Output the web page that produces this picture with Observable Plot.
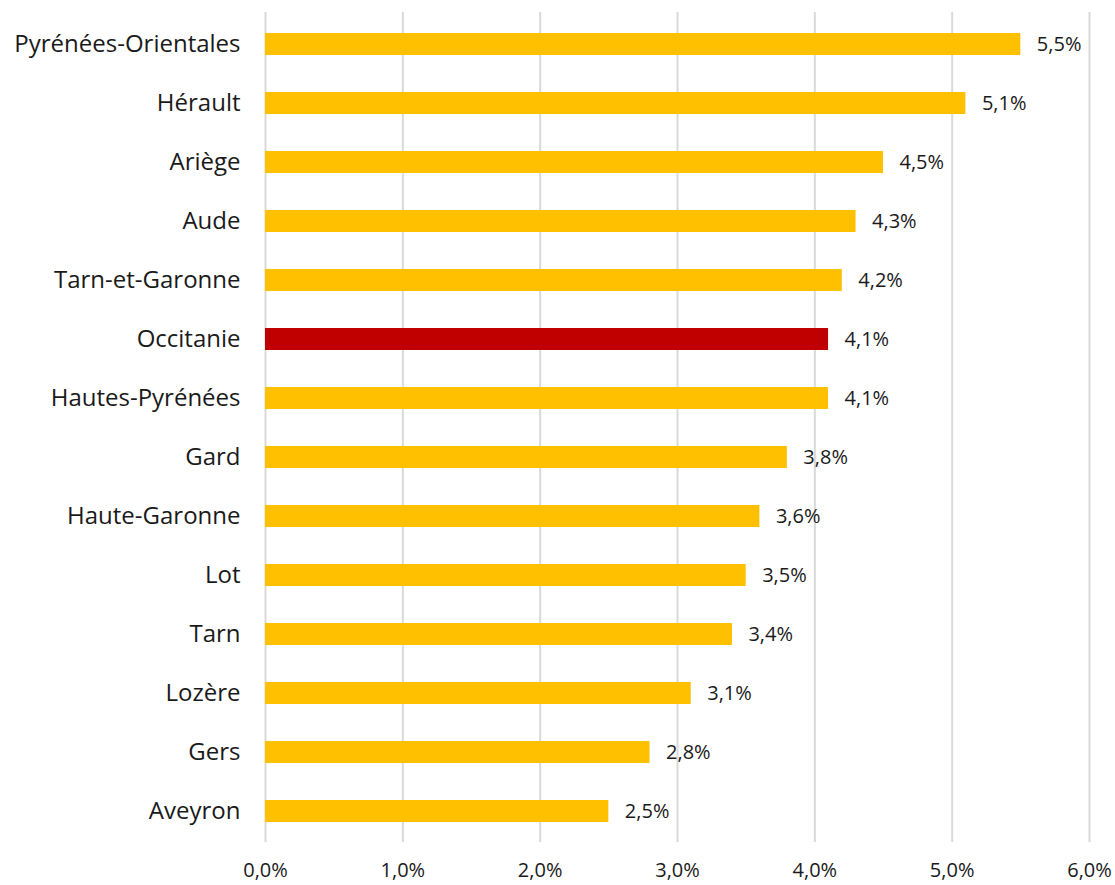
<!DOCTYPE html>
<html><head><meta charset="utf-8">
<script src="https://cdn.jsdelivr.net/npm/d3@7"></script>
<script src="https://cdn.jsdelivr.net/npm/@observablehq/plot@0.6"></script>
<style>body{margin:0;background:#fff;font-family:"Open Sans",sans-serif}</style>
</head><body><div id="chart"></div>
<script>
const departements = ["Pyrénées-Orientales","Hérault","Ariège","Aude","Tarn-et-Garonne","Occitanie","Hautes-Pyrénées","Gard","Haute-Garonne","Lot","Tarn","Lozère","Gers","Aveyron"];
const valeurs = [5.5,5.1,4.5,4.3,4.2,4.1,4.1,3.8,3.6,3.5,3.4,3.1,2.8,2.5];
const xTicks = [0,1,2,3,4,5,6];
const data = departements.map((d,i)=>({dep:d, v:valeurs[i]}));
const fmt = v => v.toFixed(1).replace(".", ",") + "%";
const chart = Plot.plot({
  width:1115, height:885,
  marginLeft:265, marginRight:26, marginTop:12, marginBottom:43,
  style:{fontFamily:"Open Sans", background:"#fff", color:"#1a1a1a"},
  x:{domain:[0,6], label:null},
  y:{domain:departements, label:null, padding:0.63, paddingOuter:0.315},
  marks:[
    Plot.gridX(xTicks,{stroke:"#d9d9d9", strokeWidth:2, strokeOpacity:1}),
    Plot.barX(data,{y:"dep", x:"v", fill:d=>d.dep==="Occitanie"?"#C00000":"#FFC000"}),
    Plot.text(data,{y:"dep", x:"v", text:d=>fmt(d.v), dx:16, textAnchor:"start", fontSize:20, fill:"#1a1a1a"}),
    Plot.axisX(xTicks,{tickSize:0, tickPadding:20, tickFormat:fmt, fontSize:20, label:null, fill:"#1a1a1a"}),
    Plot.axisY({tickSize:0, tickPadding:25, fontSize:24, label:null, fill:"#1a1a1a"})
  ]
});
document.getElementById("chart").appendChild(chart);
</script></body></html>
